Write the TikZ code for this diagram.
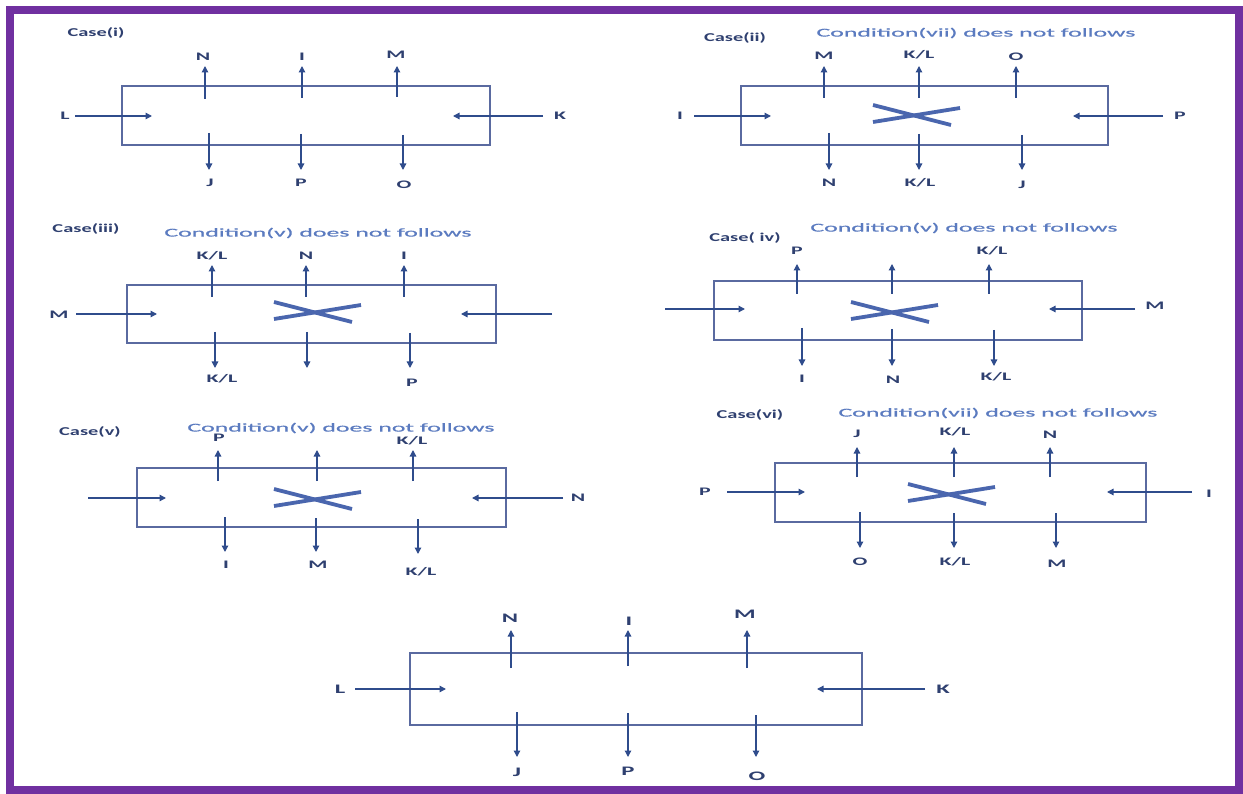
\documentclass[tikz,border=0pt]{standalone}
\usepackage{fontspec}
\setmainfont{Carlito}
\newfontfamily\labfont{Carlito}[FakeStretch=1.9]
\newfontfamily\casefont{Carlito}[FakeStretch=1.7]
\newfontfamily\condfont{Carlito}[FakeStretch=2.15,FakeBold=0.6]
\usetikzlibrary{arrows.meta}
\definecolor{framepurple}{HTML}{7030A0}
\definecolor{boxcol}{HTML}{5A6AA0}
\definecolor{arrcol}{HTML}{2F4C8C}
\definecolor{labcol}{HTML}{2F4070}
\definecolor{condcol}{HTML}{5B7BC0}
\definecolor{crosscol}{HTML}{4A66AE}
\newcommand\AR[5]{\coordinate (#1s) at (#2,#3);\coordinate (#1t) at (#4,#5);\draw[arr] (#1s) -- (#1t);}
\newcommand\XX[3]{\coordinate (#1a) at (#2-44,#3-9);\coordinate (#1b) at (#2+34,#3+11);
  \coordinate (#1c) at (#2-44,#3+8);\coordinate (#1d) at (#2+43,#3-6);
  \draw[cross] (#1a) -- (#1b);\draw[cross] (#1c) -- (#1d);}
\begin{document}
\begin{tikzpicture}[x=1pt,y=-1pt,
  frame/.style={draw=framepurple,line width=8pt},
  box/.style={draw=boxcol,line width=1.2pt},
  arr/.style={draw=arrcol,line width=1.3pt,-{Triangle[length=6.5pt,width=6.5pt]}},
  lab/.style={text=labcol,font=\labfont\bfseries\fontsize{11.5}{12}\selectfont,inner sep=0pt},
  biglab/.style={text=labcol,font=\labfont\bfseries\fontsize{13}{14}\selectfont,inner sep=0pt},
  casel/.style={text=labcol,font=\casefont\bfseries\fontsize{12}{13}\selectfont,inner sep=0pt},
  cond/.style={text=condcol,font=\condfont\fontsize{12}{14}\selectfont,inner sep=0pt},
  cross/.style={draw=crosscol,line width=3.8pt}]
\useasboundingbox (0,0) rectangle (1243,794);
\fill[white] (0,0) rectangle (1243,794);
\draw[frame] (10,10) rectangle (1239,790);

% ---------- Case (i)
\node[casel] (c1) at (96,33) {Case(i)};
\draw[box] (122,86) rectangle (490,145);
\AR{a1u1}{205}{99}{205}{66}\node[lab] (a1n) at (203,57) {N};
\AR{a1u2}{302}{98}{302}{66}\node[lab] (a1i) at (302,57) {I};
\AR{a1u3}{397}{97}{397}{66}\node[lab] (a1m) at (396,55) {M};
\AR{a1d1}{209}{133}{209}{170}\node[lab] (a1j) at (210,183) {J};
\AR{a1d2}{301}{134}{301}{170}\node[lab] (a1p) at (301,183) {P};
\AR{a1d3}{403}{135}{403}{170}\node[lab] (a1o) at (404,185) {O};
\node[lab] (a1l) at (65,116) {L};\AR{a1h1}{75}{116}{152}{116}
\node[lab] (a1k) at (560,116) {K};\AR{a1h2}{543}{116}{453}{116}

% ---------- Case (ii)
\node[casel] (c2) at (735,38) {Case(ii)};
\node[cond] (c2c) at (976,33) {Condition(vii) does not follows};
\draw[box] (741,86) rectangle (1108,145);
\AR{a2u1}{824}{98}{824}{66}\node[lab] (a2a) at (824,56) {M};
\AR{a2u2}{919}{98}{919}{66}\node[lab] (a2b) at (919,55) {K/L};
\AR{a2u3}{1016}{98}{1016}{66}\node[lab] (a2c) at (1016,57) {O};
\AR{a2d1}{829}{133}{829}{170}\node[lab] (a2d) at (829,183) {N};
\AR{a2d2}{919}{134}{919}{170}\node[lab] (a2e) at (920,183) {K/L};
\AR{a2d3}{1022}{135}{1022}{170}\node[lab] (a2f) at (1022,185) {J};
\node[lab] (a2i) at (680,116) {I};\AR{a2h1}{694}{116}{771}{116}
\node[lab] (a2p) at (1180,116) {P};\AR{a2h2}{1163}{116}{1073}{116}
\XX{x2}{917}{114}

% ---------- Case (iii)
\node[casel] (c3) at (86,229) {Case(iii)};
\node[cond] (c3c) at (318,233) {Condition(v) does not follows};
\draw[box] (127,285) rectangle (496,343);
\AR{a3u1}{212}{297}{212}{265}\node[lab] (a3a) at (212,256) {K/L};
\AR{a3u2}{306}{297}{306}{265}\node[lab] (a3b) at (306,256) {N};
\AR{a3u3}{404}{297}{404}{265}\node[lab] (a3c) at (404,256) {I};
\AR{a3d1}{215}{332}{215}{368}\node[lab] (a3d) at (222,379) {K/L};
\AR{a3d2}{307}{332}{307}{368}
\AR{a3d3}{410}{333}{410}{368}\node[lab] (a3f) at (412,383) {P};
\node[lab] (a3m) at (59,315) {M};\AR{a3h1}{76}{314}{157}{314}
\AR{a3h2}{552}{314}{461}{314}
\XX{x3}{318}{311}

% ---------- Case (iv)
\node[casel] (c4) at (745,238) {Case( iv)};
\node[cond] (c4c) at (964,228) {Condition(v) does not follows};
\draw[box] (714,281) rectangle (1082,340);
\AR{a4u1}{797}{294}{797}{264}\node[lab] (a4a) at (797,251) {P};
\AR{a4u2}{892}{294}{892}{264}
\AR{a4u3}{989}{294}{989}{264}\node[lab] (a4c) at (992,251) {K/L};
\AR{a4d1}{802}{328}{802}{366}\node[lab] (a4d) at (802,379) {I};
\AR{a4d2}{892}{329}{892}{366}\node[lab] (a4e) at (893,380) {N};
\AR{a4d3}{994}{330}{994}{366}\node[lab] (a4f) at (996,377) {K/L};
\AR{a4h1}{665}{309}{745}{309}
\node[lab] (a4m) at (1155,306) {M};\AR{a4h2}{1135}{309}{1049}{309}
\XX{x4}{895}{311}

% ---------- Case (v)
\node[casel] (c5) at (90,432) {Case(v)};
\node[cond] (c5c) at (341,428) {Condition(v) does not follows};
\draw[box] (137,468) rectangle (506,527);
\AR{a5u1}{218}{481}{218}{450}\node[lab] (a5a) at (219,438) {P};
\AR{a5u2}{317}{481}{317}{450}
\AR{a5u3}{413}{481}{413}{450}\node[lab] (a5c) at (412,441) {K/L};
\AR{a5d1}{225}{517}{225}{552}\node[lab] (a5d) at (226,565) {I};
\AR{a5d2}{316}{518}{316}{552}\node[lab] (a5e) at (318,565) {M};
\AR{a5d3}{418}{519}{418}{554}\node[lab] (a5f) at (421,572) {K/L};
\AR{a5h1}{88}{498}{166}{498}
\node[lab] (a5n) at (578,498) {N};\AR{a5h2}{563}{498}{472}{498}
\XX{x5}{318}{498}

% ---------- Case (vi)
\node[casel] (c6) at (750,415) {Case(vi)};
\node[cond] (c6c) at (998,413) {Condition(vii) does not follows};
\draw[box] (775,463) rectangle (1146,522);
\AR{a6u1}{857}{477}{857}{447}\node[lab] (a6a) at (857,434) {J};
\AR{a6u2}{954}{477}{954}{447}\node[lab] (a6b) at (955,432) {K/L};
\AR{a6u3}{1050}{477}{1050}{447}\node[lab] (a6c) at (1050,435) {N};
\AR{a6d1}{860}{512}{860}{548}\node[lab] (a6d) at (860,562) {O};
\AR{a6d2}{954}{513}{954}{548}\node[lab] (a6e) at (955,562) {K/L};
\AR{a6d3}{1056}{513}{1056}{548}\node[lab] (a6f) at (1057,564) {M};
\node[lab] (a6p) at (705,492) {P};\AR{a6h1}{727}{492}{805}{492}
\node[lab] (a6i) at (1209,494) {I};\AR{a6h2}{1192}{492}{1107}{492}
\XX{x6}{952}{493}

% ---------- bottom
\draw[box] (410,653) rectangle (862,725);
\AR{b1}{511}{668}{511}{630}\node[biglab] (bn) at (510,618) {N};
\AR{b2}{628}{666}{628}{630}\node[biglab] (bi) at (629,621) {I};
\AR{b3}{747}{668}{747}{630}\node[biglab] (bm) at (745,614) {M};
\AR{b4}{517}{712}{517}{757}\node[biglab] (bj) at (517,772) {J};
\AR{b5}{628}{713}{628}{757}\node[biglab] (bp) at (628,771) {P};
\AR{b6}{756}{715}{756}{757}\node[biglab] (bo) at (757,776) {O};
\node[biglab] (bl) at (340,689) {L};\AR{b7}{355}{689}{446}{689}
\node[biglab] (bk) at (943,689) {K};\AR{b8}{925}{689}{817}{689}
\end{tikzpicture}
\end{document}
